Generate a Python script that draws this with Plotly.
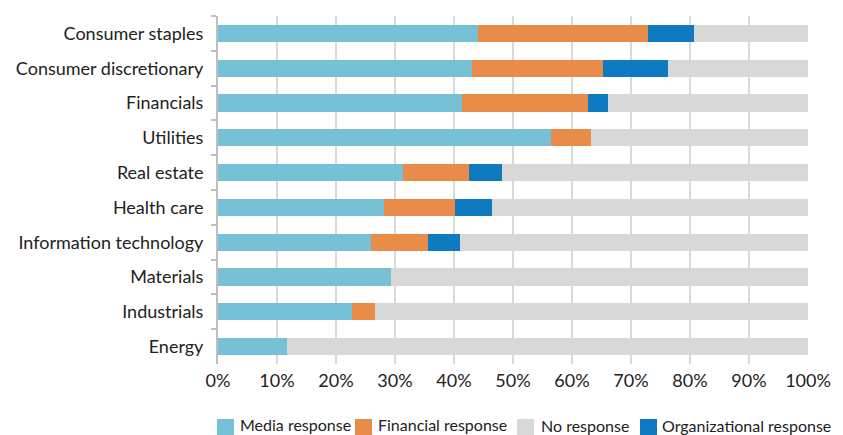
import plotly.graph_objects as go

categories = ["Consumer staples", "Consumer discretionary", "Financials", "Utilities",
              "Real estate", "Health care", "Information technology", "Materials",
              "Industrials", "Energy"]
media = [44.0, 43.0, 41.4, 56.4, 31.4, 28.1, 26.0, 29.4, 22.7, 11.7]
financial = [28.9, 22.2, 21.3, 6.9, 11.1, 12.0, 9.6, 0, 3.9, 0]
organizational = [7.7, 11.1, 3.4, 0, 5.7, 6.3, 5.5, 0, 0, 0]
no_response = [round(100 - m - f - o, 1) for m, f, o in zip(media, financial, organizational)]
x_ticks = list(range(0, 101, 10))

series = [
    ("Media response", media, "#77C1D6"),
    ("Financial response", financial, "#E98C4A"),
    ("Organizational response", organizational, "#0E7BC1"),
    ("No response", no_response, "#D8D8D8"),
]
legend_order = ["Media response", "Financial response", "No response", "Organizational response"]

FONT = "Lato, sans-serif"

fig = go.Figure()
for name, vals, color in series:
    fig.add_trace(go.Bar(
        y=categories, x=vals, name=name, orientation="h",
        marker=dict(color=color, line=dict(width=0)),
        hoverinfo="x+y+name", showlegend=False,
    ))

# Manual legend (page pixel layout mapped to paper coords)
PLOT_L, PLOT_W, PLOT_B, PLOT_H = 218, 590, 364, 348
def px(x):
    return (x - PLOT_L) / PLOT_W
def py(y):
    return (PLOT_B - y) / PLOT_H

legend_pos = {  # square left, text left, text center y
    "Media response": (217, 238, 424),
    "Financial response": (355, 376, 424),
    "No response": (517, 539, 425),
    "Organizational response": (640, 660, 425),
}
colors = {n: c for n, _, c in series}
for name in legend_order:
    sq, tx, ty = legend_pos[name]
    fig.add_shape(type="rect", xref="paper", yref="paper",
                  x0=px(sq), x1=px(sq + 17), y0=py(419), y1=py(435),
                  fillcolor=colors[name], line=dict(width=0))
    fig.add_annotation(text=name, xref="paper", yref="paper", x=px(tx), y=py(ty),
                       xanchor="left", yanchor="middle", showarrow=False,
                       font=dict(family=FONT, size=16, color="#222222"))

fig.update_layout(
    width=835, height=427,
    barmode="stack", bargap=0.51,
    margin=dict(l=210, r=35, t=8, b=71),
    plot_bgcolor="white", paper_bgcolor="white",
    font=dict(family=FONT, size=18, color="#222222"),
    showlegend=False,
    xaxis=dict(range=[0, 100], tickvals=x_ticks, ticktext=[f"{v}%" for v in x_ticks],
               showgrid=True, gridcolor="#D9D9D9", gridwidth=1.5, zeroline=False,
               showline=False, tickfont=dict(size=18), ticks="", ticklabelstandoff=4),
    yaxis=dict(categoryorder="array", categoryarray=categories, autorange="reversed",
               showline=True, linecolor="#BFBFBF", linewidth=2, ticks="outside",
               tickson="boundaries", ticklen=5, tickcolor="#BFBFBF", tickwidth=2,
               showgrid=False, tickfont=dict(size=18), ticklabelstandoff=9),
)

fig.write_html("out.html")
